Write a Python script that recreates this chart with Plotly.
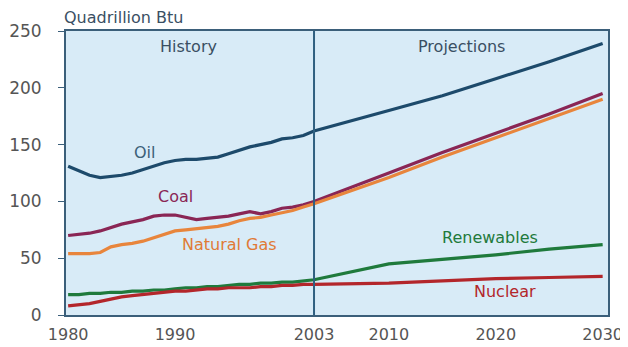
import plotly.graph_objects as go

years_hist = list(range(1980, 2004))
years_proj = [2003, 2010, 2015, 2020, 2025, 2030]

oil_hist = [131, 127, 123, 121, 122, 123, 125, 128, 131, 134, 136, 137, 137, 138, 139, 142, 145, 148, 150, 152, 155, 156, 158, 162]
oil_proj = [162, 180, 193, 208, 223, 239]

coal_hist = [70, 71, 72, 74, 77, 80, 82, 84, 87, 88, 88, 86, 84, 85, 86, 87, 89, 91, 89, 91, 94, 95, 97, 100]
coal_proj = [100, 125, 143, 160, 177, 195]

gas_hist = [54, 54, 54, 55, 60, 62, 63, 65, 68, 71, 74, 75, 76, 77, 78, 80, 83, 85, 86, 88, 90, 92, 95, 98]
gas_proj = [98, 121, 139, 156, 173, 190]

ren_hist = [18, 18, 19, 19, 20, 20, 21, 21, 22, 22, 23, 24, 24, 25, 25, 26, 27, 27, 28, 28, 29, 29, 30, 31]
ren_proj = [31, 45, 49, 53, 58, 62]

nuc_hist = [8, 9, 10, 12, 14, 16, 17, 18, 19, 20, 21, 21, 22, 23, 23, 24, 24, 24, 25, 25, 26, 26, 27, 27]
nuc_proj = [27, 28, 30, 32, 33, 34]

series = [
    ("Oil", oil_hist, oil_proj, "#1d4a6b"),
    ("Coal", coal_hist, coal_proj, "#8a2655"),
    ("Natural Gas", gas_hist, gas_proj, "#e8853c"),
    ("Renewables", ren_hist, ren_proj, "#1f7a3c"),
    ("Nuclear", nuc_hist, nuc_proj, "#b3262b"),
]

tick_years = [1980, 1990, 2003, 2010, 2020, 2030]
y_ticks = [0, 50, 100, 150, 200, 250]

FONT = "DejaVu Sans, Verdana, sans-serif"

fig = go.Figure()
for name, h, p, c in series:
    fig.add_trace(go.Scatter(x=years_hist + years_proj[1:], y=h + p[1:], mode="lines",
                             line=dict(color=c, width=3.2), name=name, showlegend=False))

fig.add_shape(type="line", x0=2003, x1=2003, y0=0, y1=250, xref="x", yref="y",
              line=dict(color="#2f5f80", width=2))

labels = [
    ("Oil", 1987.1, 143, "#3b6078"),
    ("Coal", 1990.0, 104, "#8a2655"),
    ("Natural Gas", 1995.1, 62, "#e07a35"),
    ("Renewables", 2019.5, 68, "#1f7a3c"),
    ("Nuclear", 2020.9, 21, "#b3262b"),
    ("History", 1991.3, 236, "#3a4f63"),
    ("Projections", 2016.8, 236, "#3a4f63"),
]
for t, x, y, c in labels:
    fig.add_annotation(x=x, y=y, text=t, showarrow=False, xref="x", yref="y",
                       font=dict(family=FONT, size=16, color=c))

fig.add_annotation(x=0, y=1.0, xref="paper", yref="paper", text="Quadrillion Btu",
                   showarrow=False, xanchor="left", yanchor="bottom", yshift=2, xshift=-4,
                   font=dict(family=FONT, size=16, color="#3a4f63"))

fig.update_layout(
    width=628, height=347,
    margin=dict(l=58, r=28, t=23, b=40, autoexpand=False),
    paper_bgcolor="white",
    plot_bgcolor="#d8ebf7",
    font=dict(family=FONT, size=15, color="#555555"),
    xaxis=dict(range=[1979.8, 2030.5], tickvals=tick_years, ticktext=[str(v) for v in tick_years],
               showgrid=False, zeroline=False, showline=True, linecolor="#3b5f7a", linewidth=2,
               mirror=True, ticks="", ticklabelstandoff=4, automargin=False,
               tickfont=dict(size=16, color="#555555")),
    yaxis=dict(range=[0, 250], tickvals=y_ticks, showgrid=False, zeroline=False,
               showline=True, linecolor="#3b5f7a", linewidth=2, mirror=True, automargin=False,
               ticks="outside", ticklen=6, tickcolor="#3b5f7a", ticklabelstandoff=13,
               tickfont=dict(size=17, color="#555555")),
)

fig.write_html("out.html")
